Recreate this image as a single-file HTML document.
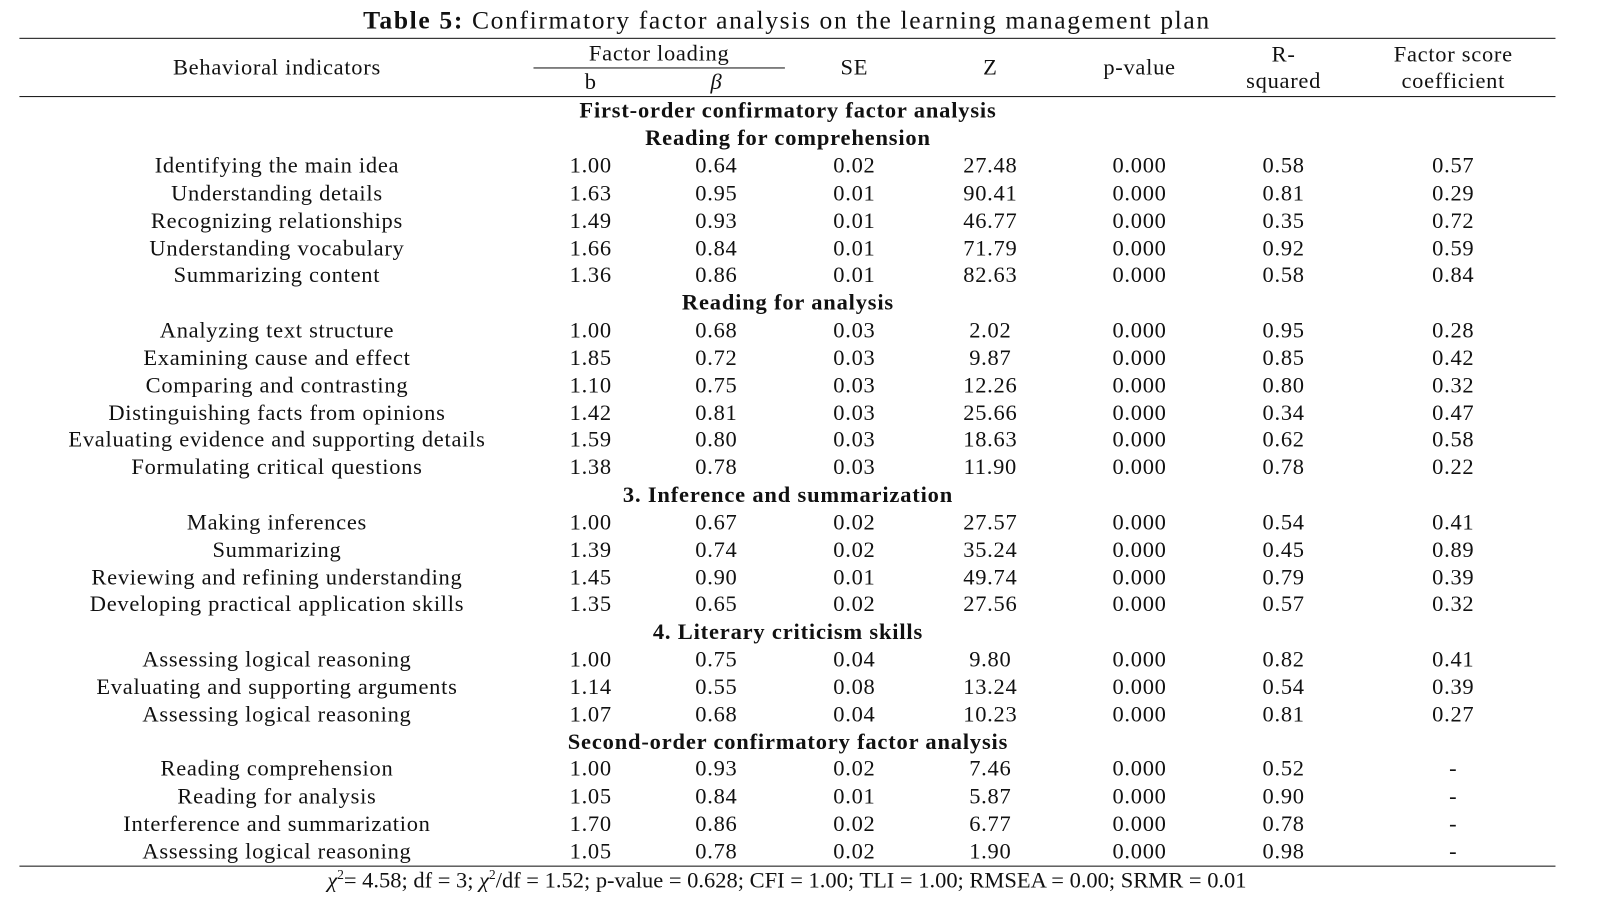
<!DOCTYPE html>
<html><head><meta charset="utf-8"><style>
html,body{margin:0;padding:0;background:#fff;width:1602px;height:909px;overflow:hidden}
#w{position:absolute;left:0;top:0;width:1568px;height:890px;transform:scale(1.022,1.022);transform-origin:0 0;font-family:"Liberation Serif",serif;font-size:22px;letter-spacing:0.7px;color:#111}
.r{position:absolute;left:0;width:1548px;height:26px;line-height:26px}
.r span{position:absolute;width:300px;text-align:center;white-space:nowrap}
.r span.c0{left:-29px;width:600px}
.c1{left:428px}.c2{left:551px}.c3{left:686px}.c4{left:819px}.c5{left:965px}.c6{left:1106px}.c7{left:1272px}
.h{position:absolute;left:0;width:1542px;text-align:center;font-weight:bold;height:26px;line-height:26px;letter-spacing:0.8px}
.ln{position:absolute;left:19px;width:1503px;height:1.3px;background:#111}
.t{position:absolute;text-align:center;line-height:26px;white-space:nowrap}
</style></head><body><div id="w">
<div class="t" style="left:0;width:1540px;top:8px;font-size:25px;letter-spacing:1.6px"><b>Table 5:</b> Confirmatory factor analysis on the learning management plan</div>
<div class="ln" style="top:37px"></div>
<div class="t" style="left:121px;width:300px;top:53px">Behavioral indicators</div>
<div class="t" style="left:495px;width:300px;top:39px">Factor loading</div>
<div style="position:absolute;left:522px;width:246px;top:66px;height:1.3px;background:#111"></div>
<div class="t" style="left:428px;width:300px;top:67px">b</div>
<div class="t" style="left:551px;width:300px;top:67px;font-style:italic">β</div>
<div class="t" style="left:686px;width:300px;top:53px">SE</div>
<div class="t" style="left:819px;width:300px;top:53px">Z</div>
<div class="t" style="left:965px;width:300px;top:53px">p-value</div>
<div class="t" style="left:1106px;width:300px;top:40px">R-<br>squared</div>
<div class="t" style="left:1272px;width:300px;top:40px">Factor score<br>coefficient</div>
<div class="ln" style="top:94px"></div>
<div class="h" style="top:95px">First-order confirmatory factor analysis</div>
<div class="h" style="top:122px">Reading for comprehension</div>
<div class="ln" style="top:847px"></div>
<div class="t" style="left:0;width:1540px;top:843px;letter-spacing:0"><i>χ</i><sup style="font-size:13px">2</sup>= 4.58; df = 3; <i>χ</i><sup style="font-size:13px">2</sup>/df = 1.52; p-value = 0.628; CFI = 1.00; TLI = 1.00; RMSEA = 0.00; SRMR = 0.01</div>
<div class="r" style="top:149px"><span class="c0">Identifying the main idea</span><span class="c1">1.00</span><span class="c2">0.64</span><span class="c3">0.02</span><span class="c4">27.48</span><span class="c5">0.000</span><span class="c6">0.58</span><span class="c7">0.57</span></div>
<div class="r" style="top:176px"><span class="c0">Understanding details</span><span class="c1">1.63</span><span class="c2">0.95</span><span class="c3">0.01</span><span class="c4">90.41</span><span class="c5">0.000</span><span class="c6">0.81</span><span class="c7">0.29</span></div>
<div class="r" style="top:203px"><span class="c0">Recognizing relationships</span><span class="c1">1.49</span><span class="c2">0.93</span><span class="c3">0.01</span><span class="c4">46.77</span><span class="c5">0.000</span><span class="c6">0.35</span><span class="c7">0.72</span></div>
<div class="r" style="top:230px"><span class="c0">Understanding vocabulary</span><span class="c1">1.66</span><span class="c2">0.84</span><span class="c3">0.01</span><span class="c4">71.79</span><span class="c5">0.000</span><span class="c6">0.92</span><span class="c7">0.59</span></div>
<div class="r" style="top:256px"><span class="c0">Summarizing content</span><span class="c1">1.36</span><span class="c2">0.86</span><span class="c3">0.01</span><span class="c4">82.63</span><span class="c5">0.000</span><span class="c6">0.58</span><span class="c7">0.84</span></div>
<div class="h" style="top:283px">Reading for analysis</div>
<div class="r" style="top:310px"><span class="c0">Analyzing text structure</span><span class="c1">1.00</span><span class="c2">0.68</span><span class="c3">0.03</span><span class="c4">2.02</span><span class="c5">0.000</span><span class="c6">0.95</span><span class="c7">0.28</span></div>
<div class="r" style="top:337px"><span class="c0">Examining cause and effect</span><span class="c1">1.85</span><span class="c2">0.72</span><span class="c3">0.03</span><span class="c4">9.87</span><span class="c5">0.000</span><span class="c6">0.85</span><span class="c7">0.42</span></div>
<div class="r" style="top:364px"><span class="c0">Comparing and contrasting</span><span class="c1">1.10</span><span class="c2">0.75</span><span class="c3">0.03</span><span class="c4">12.26</span><span class="c5">0.000</span><span class="c6">0.80</span><span class="c7">0.32</span></div>
<div class="r" style="top:391px"><span class="c0">Distinguishing facts from opinions</span><span class="c1">1.42</span><span class="c2">0.81</span><span class="c3">0.03</span><span class="c4">25.66</span><span class="c5">0.000</span><span class="c6">0.34</span><span class="c7">0.47</span></div>
<div class="r" style="top:417px"><span class="c0">Evaluating evidence and supporting details</span><span class="c1">1.59</span><span class="c2">0.80</span><span class="c3">0.03</span><span class="c4">18.63</span><span class="c5">0.000</span><span class="c6">0.62</span><span class="c7">0.58</span></div>
<div class="r" style="top:444px"><span class="c0">Formulating critical questions</span><span class="c1">1.38</span><span class="c2">0.78</span><span class="c3">0.03</span><span class="c4">11.90</span><span class="c5">0.000</span><span class="c6">0.78</span><span class="c7">0.22</span></div>
<div class="h" style="top:471px">3. Inference and summarization</div>
<div class="r" style="top:498px"><span class="c0">Making inferences</span><span class="c1">1.00</span><span class="c2">0.67</span><span class="c3">0.02</span><span class="c4">27.57</span><span class="c5">0.000</span><span class="c6">0.54</span><span class="c7">0.41</span></div>
<div class="r" style="top:525px"><span class="c0">Summarizing</span><span class="c1">1.39</span><span class="c2">0.74</span><span class="c3">0.02</span><span class="c4">35.24</span><span class="c5">0.000</span><span class="c6">0.45</span><span class="c7">0.89</span></div>
<div class="r" style="top:552px"><span class="c0">Reviewing and refining understanding</span><span class="c1">1.45</span><span class="c2">0.90</span><span class="c3">0.01</span><span class="c4">49.74</span><span class="c5">0.000</span><span class="c6">0.79</span><span class="c7">0.39</span></div>
<div class="r" style="top:578px"><span class="c0">Developing practical application skills</span><span class="c1">1.35</span><span class="c2">0.65</span><span class="c3">0.02</span><span class="c4">27.56</span><span class="c5">0.000</span><span class="c6">0.57</span><span class="c7">0.32</span></div>
<div class="h" style="top:605px">4. Literary criticism skills</div>
<div class="r" style="top:632px"><span class="c0">Assessing logical reasoning</span><span class="c1">1.00</span><span class="c2">0.75</span><span class="c3">0.04</span><span class="c4">9.80</span><span class="c5">0.000</span><span class="c6">0.82</span><span class="c7">0.41</span></div>
<div class="r" style="top:659px"><span class="c0">Evaluating and supporting arguments</span><span class="c1">1.14</span><span class="c2">0.55</span><span class="c3">0.08</span><span class="c4">13.24</span><span class="c5">0.000</span><span class="c6">0.54</span><span class="c7">0.39</span></div>
<div class="r" style="top:686px"><span class="c0">Assessing logical reasoning</span><span class="c1">1.07</span><span class="c2">0.68</span><span class="c3">0.04</span><span class="c4">10.23</span><span class="c5">0.000</span><span class="c6">0.81</span><span class="c7">0.27</span></div>
<div class="h" style="top:713px">Second-order confirmatory factor analysis</div>
<div class="r" style="top:739px"><span class="c0">Reading comprehension</span><span class="c1">1.00</span><span class="c2">0.93</span><span class="c3">0.02</span><span class="c4">7.46</span><span class="c5">0.000</span><span class="c6">0.52</span><span class="c7">-</span></div>
<div class="r" style="top:766px"><span class="c0">Reading for analysis</span><span class="c1">1.05</span><span class="c2">0.84</span><span class="c3">0.01</span><span class="c4">5.87</span><span class="c5">0.000</span><span class="c6">0.90</span><span class="c7">-</span></div>
<div class="r" style="top:793px"><span class="c0">Interference and summarization</span><span class="c1">1.70</span><span class="c2">0.86</span><span class="c3">0.02</span><span class="c4">6.77</span><span class="c5">0.000</span><span class="c6">0.78</span><span class="c7">-</span></div>
<div class="r" style="top:820px"><span class="c0">Assessing logical reasoning</span><span class="c1">1.05</span><span class="c2">0.78</span><span class="c3">0.02</span><span class="c4">1.90</span><span class="c5">0.000</span><span class="c6">0.98</span><span class="c7">-</span></div>
</div></body></html>
